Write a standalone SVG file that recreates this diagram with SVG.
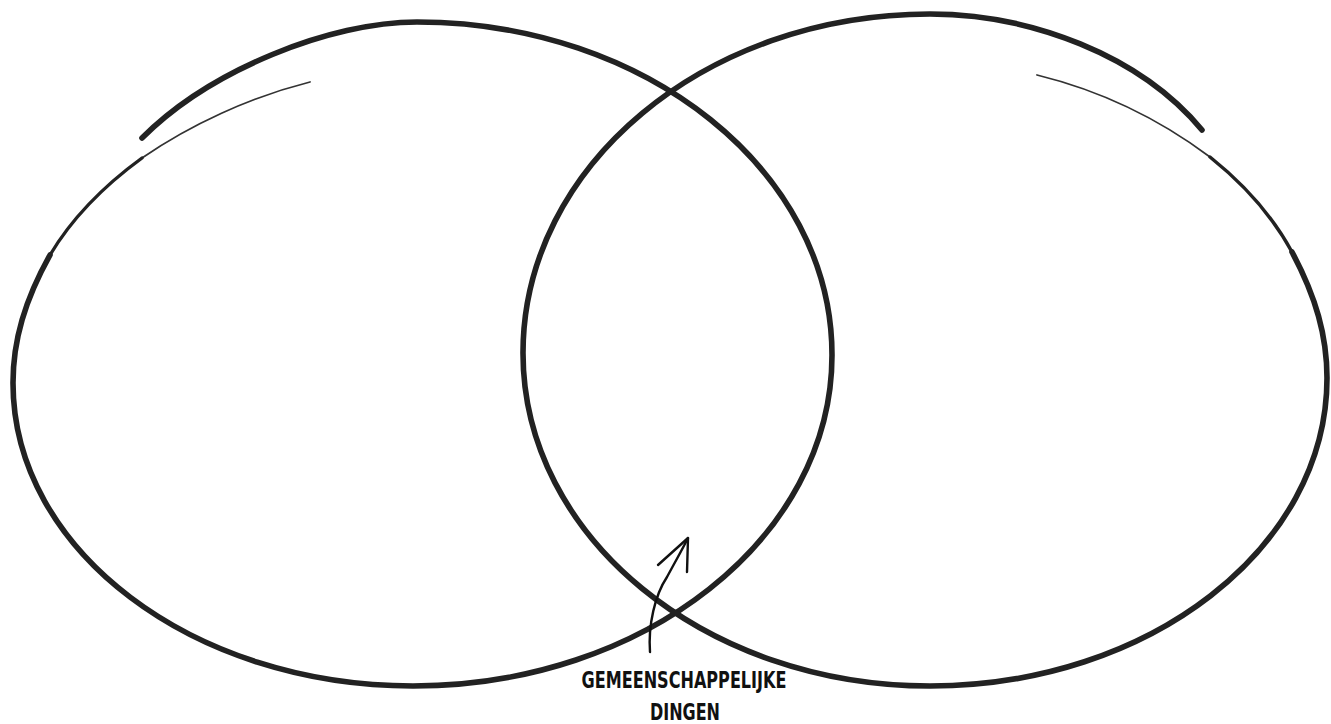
<svg xmlns="http://www.w3.org/2000/svg" width="1331" height="724" viewBox="0 0 1331 724">
<style>
.ink{fill:none;stroke:#222;stroke-linecap:round;stroke-linejoin:round}
.main{stroke-width:5.6}
.thin{stroke-width:1.8;stroke:#333}
.semi{stroke-width:3.4}
.arrow{fill:none;stroke:#111;stroke-width:2.4;stroke-linecap:round;stroke-linejoin:round}
.label{font-family:"DejaVu Sans Condensed","Liberation Sans Narrow","Liberation Sans",sans-serif;font-size:23px;font-weight:bold;fill:#111;text-anchor:middle;font-stretch:condensed}
</style>
<rect width="1331" height="724" fill="#fff"/>
<g id="left-set">
  <path class="ink thin" d="M310,82 C250,97 190,125 142,158"/>
  <path class="ink semi" d="M142,158 C105,185 72,218 50,255"/>
  <path class="ink main" d="M50,255 C25,300 13,340 13,383 C13,550 192,686 413,686 C644,686 832,538 832,355 C832,171 646,22 417,22 C330,22 210,70 142,138"/>
</g>
<g id="right-set">
  <path class="ink thin" d="M1037,75 C1090,88 1150,112 1210,157"/>
  <path class="ink semi" d="M1210,157 C1245,185 1272,215 1292,252"/>
  <path class="ink main" d="M1292,252 C1316,297 1327,336 1327,378 C1327,548 1149,686 930,686 C705,686 523,537 523,353 C523,166 705,14 930,14 C1030,14 1140,55 1202,130"/>
</g>
<g id="connectors">
  <path class="arrow" d="M650,652 C648,625 655,595 667,577 C675,562 682,550 688,538"/>
  <path class="arrow" d="M658,565 L688,538 L687,572"/>
</g>
<g id="label">
  <text class="label" x="684" y="688" textLength="205" lengthAdjust="spacingAndGlyphs">GEMEENSCHAPPELIJKE</text>
  <text class="label" x="685" y="720" textLength="70" lengthAdjust="spacingAndGlyphs">DINGEN</text>
</g>
</svg>
